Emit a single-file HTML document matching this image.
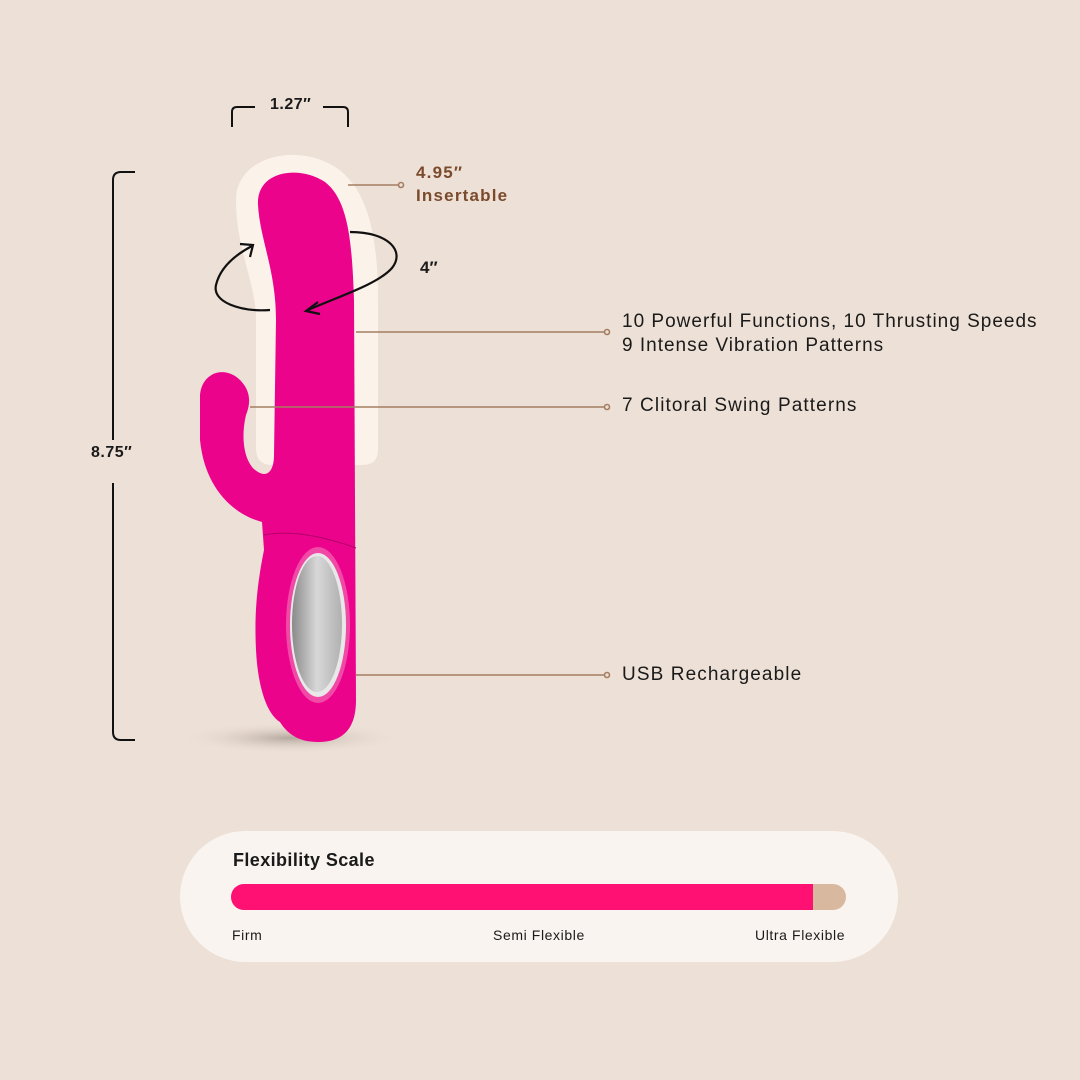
<!DOCTYPE html>
<html><head><meta charset="utf-8"><style>
html,body{margin:0;padding:0;}
body{width:1080px;height:1080px;background:#EDE0D6;position:relative;overflow:hidden;font-family:"Liberation Sans",sans-serif;}
.t{position:absolute;white-space:nowrap;color:#1a1a1a;}
</style></head><body>
<svg width="1080" height="1080" style="position:absolute;left:0;top:0">
<defs>
<radialGradient id="sh" cx="0.5" cy="0.5" r="0.5"><stop offset="0" stop-color="#9c8f86" stop-opacity="0.7"/><stop offset="1" stop-color="#EDE0D6" stop-opacity="0"/></radialGradient>
<linearGradient id="win" x1="0" y1="0" x2="1" y2="0"><stop offset="0" stop-color="#8a8a8a"/><stop offset="0.5" stop-color="#d8d8d8"/><stop offset="1" stop-color="#b0b0b0"/></linearGradient>
</defs>
<ellipse cx="290" cy="738" rx="110" ry="16" fill="url(#sh)"/>
<path d="M236 200 C236 158 292 143 332 165 C366 185 378 230 378 300 L378 450 Q378 465 362 465 L272 465 Q256 465 256 448 L256 320 C256 282 236 250 236 200 Z" fill="#FBF2EA"/>
<path d="M258 205 C256 170 300 165 325 182 C348 200 352 240 354 300 L356 700 C356 732 340 742 318 742 C300 742 288 735 280 722 C268 715 258 690 256 650 C254 610 258 580 264 550 L262 522 C235 515 205 490 200 440 L200 395 C202 372 225 365 240 380 C252 392 250 405 246 415 C240 440 245 465 258 472 C268 478 274 470 274 455 L276 320 C276 270 260 240 258 205 Z" fill="#EC038C"/>
<path d="M264 535 Q300 528 356 548" stroke="#b0006a" stroke-width="1" fill="none"/>
<ellipse cx="318" cy="625" rx="32" ry="78" fill="#f04aa6"/>
<ellipse cx="318" cy="625" rx="28" ry="72" fill="#e8e8e8"/>
<ellipse cx="317" cy="624" rx="25" ry="68" fill="url(#win)"/>
<path d="M350 232 C390 232 405 252 392 268 C378 284 340 296 308 310" stroke="#111" stroke-width="2.2" fill="none"/>
<path d="M318 302 L306 311 L320 314" stroke="#111" stroke-width="2.2" fill="none"/>
<path d="M270 310 C240 312 212 302 216 285 C220 268 235 255 252 246" stroke="#111" stroke-width="2.2" fill="none"/>
<path d="M240 244 L253 245 L250 257" stroke="#111" stroke-width="2.2" fill="none"/>
<path d="M232 127 V112 Q232 107 237 107 H255 M323 107 H343 Q348 107 348 112 V127" stroke="#111" stroke-width="2" fill="none"/>
<path d="M135 172 H121 Q113 172 113 180 V440 M113 483 V732 Q113 740 121 740 H135" stroke="#111" stroke-width="2" fill="none"/>
<g stroke="#A57E62" stroke-width="1.6" fill="none">
<line x1="348" y1="185" x2="398" y2="185"/><circle cx="401" cy="185" r="2.5"/>
<line x1="356" y1="332" x2="604" y2="332"/><circle cx="607" cy="332" r="2.5"/>
<line x1="250" y1="407" x2="604" y2="407"/><circle cx="607" cy="407" r="2.5"/>
<line x1="356" y1="675" x2="604" y2="675"/><circle cx="607" cy="675" r="2.5"/>
</g>
<rect x="180" y="831" width="718" height="131" rx="65.5" fill="#F9F4EF"/>
<rect x="231" y="884" width="615" height="26" rx="13" fill="#D8B9A0"/>
<path d="M244 884 H813 V910 H244 A13 13 0 0 1 244 884 Z" fill="#FF1173"/>
</svg>
<div class="t" style="left:270px;top:96px;font-size:16px;font-weight:bold;letter-spacing:0.5px">1.27″</div>
<div class="t" style="left:91px;top:444px;font-size:16px;font-weight:bold;letter-spacing:0.5px">8.75″</div>
<div class="t" style="left:416px;top:161px;font-size:17px;font-weight:bold;color:#7B4A2C;line-height:23px;letter-spacing:1.2px">4.95″<br>Insertable</div>
<div class="t" style="left:420px;top:258px;font-size:17px;font-weight:bold">4″</div>
<div class="t" style="left:622px;top:310px;font-size:19px;line-height:24px;letter-spacing:1px">10 Powerful Functions, 10 Thrusting Speeds<br>9 Intense Vibration Patterns</div>
<div class="t" style="left:622px;top:395px;font-size:19px;letter-spacing:1.1px">7 Clitoral Swing Patterns</div>
<div class="t" style="left:622px;top:664px;font-size:19px;letter-spacing:1.1px">USB Rechargeable</div>
<div class="t" style="left:233px;top:850px;font-size:18px;font-weight:bold;letter-spacing:0.4px">Flexibility Scale</div>
<div class="t" style="left:232px;top:927px;font-size:14px;letter-spacing:0.6px">Firm</div>
<div class="t" style="left:493px;top:927px;font-size:14px;letter-spacing:0.6px">Semi Flexible</div>
<div class="t" style="left:755px;top:927px;font-size:14px;letter-spacing:0.6px">Ultra Flexible</div>
</body></html>
